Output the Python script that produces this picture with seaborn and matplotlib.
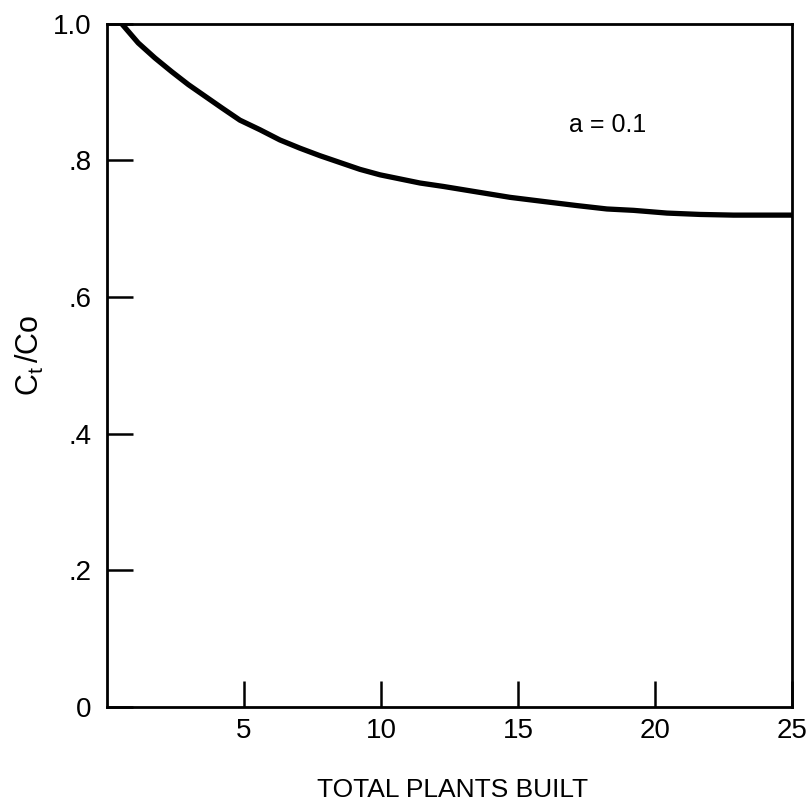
import matplotlib
matplotlib.use("Agg")
import matplotlib.pyplot as plt
import seaborn as sns
import pandas as pd
from matplotlib import font_manager

# Cost ratio versus cumulative plants built (learning effect, a = 0.1)
plants_built = [0.54, 1.14, 1.75, 2.36, 2.97, 3.58, 4.19, 4.85, 5.58, 6.31,
                7.04, 7.77, 8.50, 9.23, 9.96, 10.69, 11.42, 12.27, 13.49, 14.71,
                15.92, 17.14, 18.24, 19.21, 20.43, 21.64, 22.86, 24.08, 25.0]
cost_ratio = [1.000, 0.972, 0.950, 0.930, 0.911, 0.894, 0.877, 0.859, 0.845, 0.830,
              0.818, 0.807, 0.797, 0.787, 0.779, 0.773, 0.767, 0.762, 0.754, 0.746,
              0.740, 0.734, 0.729, 0.727, 0.723, 0.721, 0.720, 0.720, 0.720]

x_ticks = [5, 10, 15, 20, 25]
y_ticks = [0, 0.2, 0.4, 0.6, 0.8, 1.0]
y_tick_labels = ["0", ".2", ".4", ".6", ".8", "1.0"]

sns.set_style("white")
available = {f.name for f in font_manager.fontManager.ttflist}
family = [f for f in ["Liberation Sans Narrow", "Liberation Sans", "DejaVu Sans"] if f in available]
plt.rcParams["font.family"] = family
plt.rcParams["mathtext.fontset"] = "custom"
plt.rcParams["mathtext.rm"] = family[0]
plt.rcParams["mathtext.it"] = family[0]

df = pd.DataFrame({"plants": plants_built, "ratio": cost_ratio})

fig = plt.figure(figsize=(8.08, 8.05), dpi=100)
ax = fig.add_axes([0.1324, 0.1217, 0.848, 0.8487])

sns.lineplot(data=df, x="plants", y="ratio", ax=ax, color="black", linewidth=3.8,
             solid_capstyle="butt", solid_joinstyle="round")

ax.set_xlim(0, 25)
ax.set_ylim(0, 1.0)
ax.set_xticks(x_ticks)
ax.set_xticklabels([str(t) for t in x_ticks])
ax.set_yticks(y_ticks)
ax.set_yticklabels(y_tick_labels)

for side in ["left", "right", "top", "bottom"]:
    ax.spines[side].set_visible(True)
    ax.spines[side].set_color("black")
    ax.spines[side].set_linewidth(2.0)

ax.tick_params(axis="both", which="major", direction="in", length=19, width=1.8,
               color="black", labelsize=20, labelcolor="black",
               bottom=True, left=True, top=False, right=False)
ax.tick_params(axis="y", pad=11)
ax.tick_params(axis="x", pad=8)

ax.set_xlabel("TOTAL PLANTS BUILT", fontsize=19, color="black")
ax.xaxis.set_label_coords(0.505, -0.1215)
ax.xaxis.label.set_va("center")

ax.set_ylabel(r"$\mathregular{C_t\,/Co}$", fontsize=22, color="black")
ax.yaxis.set_label_coords(-0.112, 0.515)
ax.yaxis.label.set_va("center")

ax.text(18.25, 0.852, "a = 0.1", fontsize=18, ha="center", va="center", color="black")

fig.savefig("out.png", dpi=100, facecolor="white")
